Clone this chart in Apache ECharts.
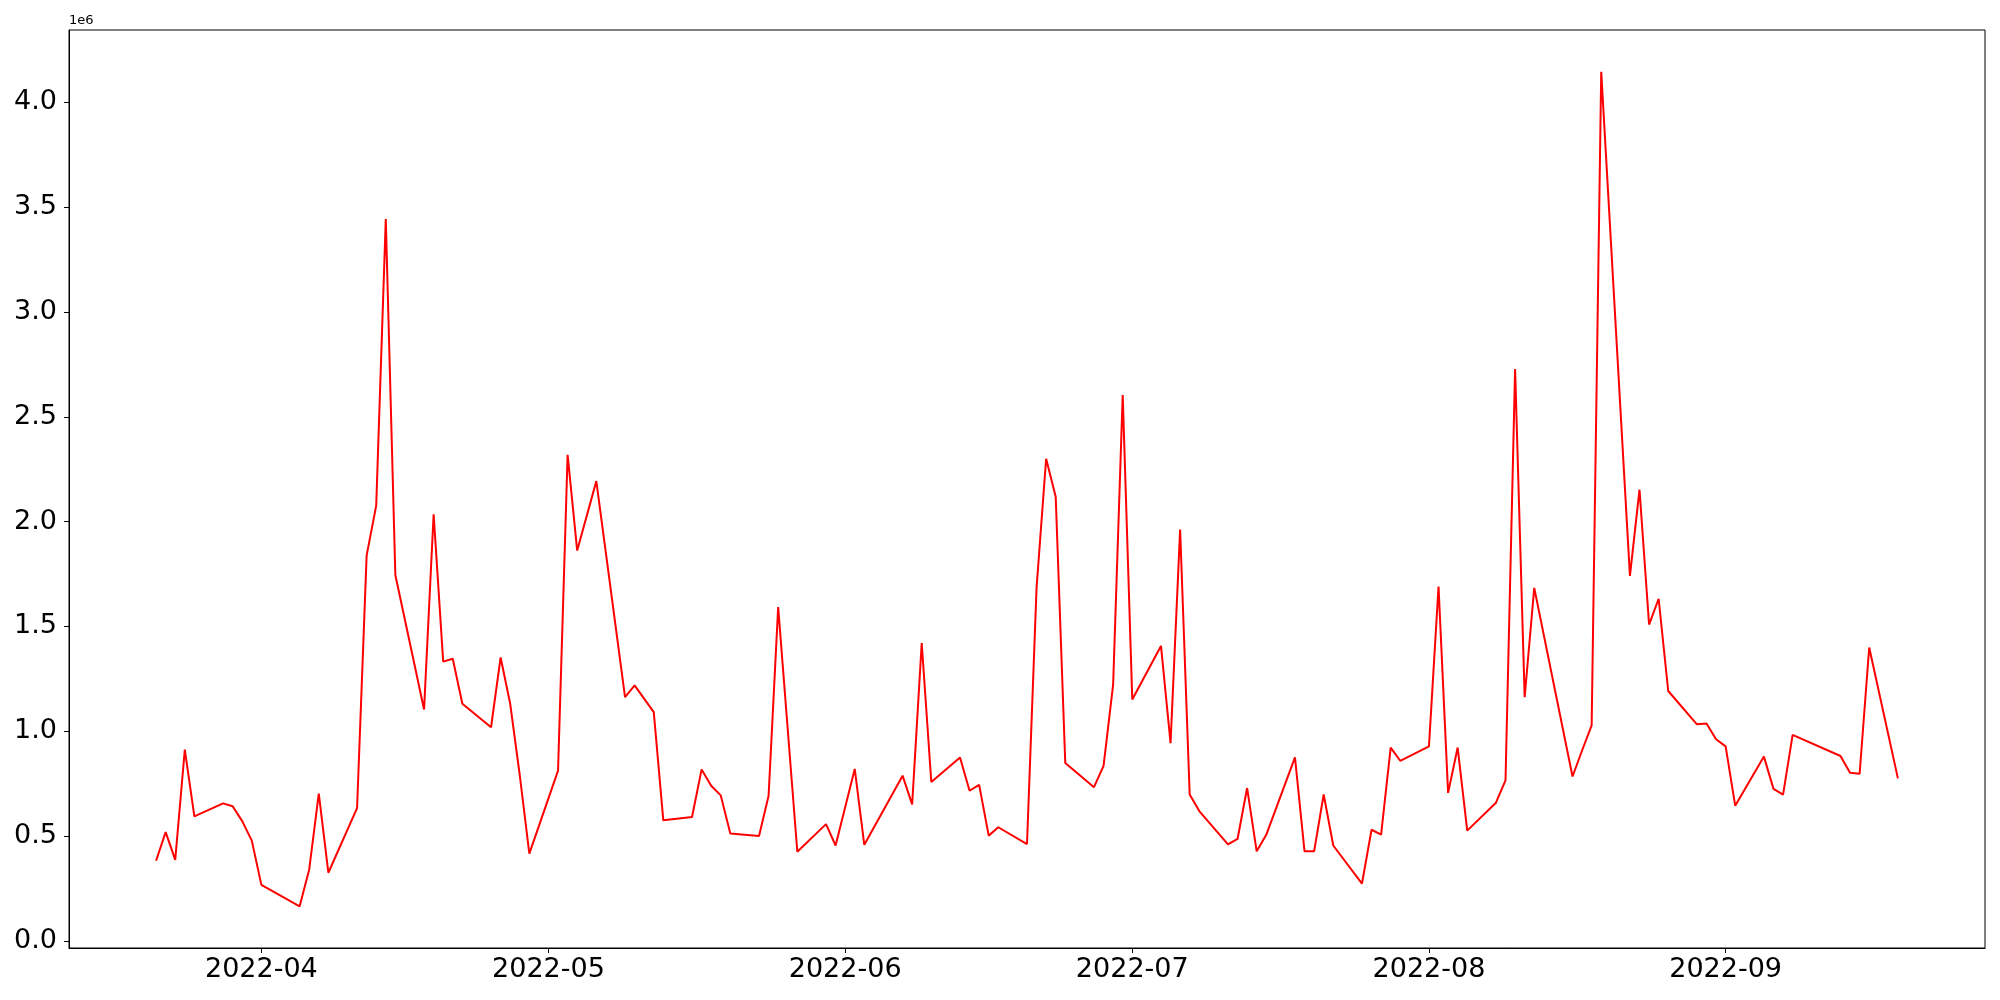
<!DOCTYPE html>
<html>
<head>
<meta charset="utf-8">
<script src="https://cdn.jsdelivr.net/npm/echarts@6/dist/echarts.min.js"></script>
<style>
html,body{margin:0;padding:0;background:#fff;}
#chart{width:2000px;height:1000px;}
</style>
</head>
<body>
<div id="chart"></div>
<script>
const dates = [
'2022-03-21','2022-03-22','2022-03-23','2022-03-24','2022-03-25',
'2022-03-28','2022-03-29','2022-03-30','2022-03-31','2022-04-01',
'2022-04-05','2022-04-06','2022-04-07','2022-04-08',
'2022-04-11','2022-04-12','2022-04-13','2022-04-14','2022-04-15',
'2022-04-18','2022-04-19','2022-04-20','2022-04-21','2022-04-22',
'2022-04-25','2022-04-26','2022-04-27','2022-04-28','2022-04-29',
'2022-05-02','2022-05-03','2022-05-04','2022-05-06',
'2022-05-09','2022-05-10','2022-05-12','2022-05-13',
'2022-05-16','2022-05-17','2022-05-18','2022-05-19','2022-05-20',
'2022-05-23','2022-05-24','2022-05-25','2022-05-27',
'2022-05-30','2022-05-31','2022-06-02','2022-06-03',
'2022-06-07','2022-06-08','2022-06-09','2022-06-10',
'2022-06-13','2022-06-14','2022-06-15','2022-06-16','2022-06-17',
'2022-06-20','2022-06-21','2022-06-22','2022-06-23','2022-06-24',
'2022-06-27','2022-06-28','2022-06-29','2022-06-30','2022-07-01',
'2022-07-04','2022-07-05','2022-07-06','2022-07-07','2022-07-08',
'2022-07-11','2022-07-12','2022-07-13','2022-07-14','2022-07-15',
'2022-07-18','2022-07-19','2022-07-20','2022-07-21','2022-07-22',
'2022-07-25','2022-07-26','2022-07-27','2022-07-28','2022-07-29',
'2022-08-01','2022-08-02','2022-08-03','2022-08-04','2022-08-05',
'2022-08-08','2022-08-09','2022-08-10','2022-08-11','2022-08-12',
'2022-08-16','2022-08-17','2022-08-18','2022-08-19',
'2022-08-22','2022-08-23','2022-08-24','2022-08-25','2022-08-26',
'2022-08-29','2022-08-30','2022-08-31','2022-09-01','2022-09-02',
'2022-09-05','2022-09-06','2022-09-07','2022-09-08',
'2022-09-13','2022-09-14','2022-09-15','2022-09-16',
'2022-09-19'
];
const values = [
382000,519000,386000,912000,594000,
656000,642000,571000,478000,267000,
165000,341000,702000,325000,
633000,1839000,2076000,3443000,1745000,
1104000,2035000,1332000,1346000,1131000,
1019000,1352000,1131000,790000,416000,
812000,2319000,1862000,2193000,
1163000,1219000,1091000,575000,
591000,818000,740000,694000,512000,
500000,692000,1592000,425000,
557000,455000,820000,458000,
788000,651000,1421000,758000,
875000,716000,744000,502000,542000,
462000,1685000,2300000,2118000,848000,
733000,835000,1222000,2604000,1151000,
1407000,943000,1962000,698000,619000,
460000,486000,729000,427000,506000,
875000,427000,427000,698000,455000,
273000,530000,507000,922000,859000,
928000,1690000,706000,922000,526000,
659000,766000,2728000,1162000,1684000,
784000,908000,1028000,4146000,
1741000,2152000,1509000,1632000,1192000,
1033000,1037000,962000,928000,645000,
879000,725000,698000,983000,
882000,802000,797000,1399000,
775000
];
const xTickDates = ['2022-04-01','2022-05-01','2022-06-01','2022-07-01','2022-08-01','2022-09-01'];
const yTicks = [0,500000,1000000,1500000,2000000,2500000,3000000,3500000,4000000];
const yScaleLabel = '1e6';

function ts(s){const p=s.split('-').map(Number);return Date.UTC(p[0],p[1]-1,p[2]);}
const xs = dates.map(ts);
const xTickVals = xTickDates.map(ts);
const span = xs[xs.length-1]-xs[0];
const xMin = xs[0]-0.05*span, xMax = xs[xs.length-1]+0.05*span;
const vMin = Math.min.apply(null, values), vMax = Math.max.apply(null, values);
const vr = vMax - vMin;
const yMin = vMin - 0.05*vr, yMax = vMax + 0.05*vr;

const chart = echarts.init(document.getElementById('chart'), null, {renderer:'canvas'});
const font = 'DejaVu Sans';
chart.setOption({
  animation:false,
  backgroundColor:'#fff',
  grid:{left:69, right:15, top:30, bottom:52, show:true, borderColor:'#000', borderWidth:1, backgroundColor:'transparent'},
  xAxis:{
    type:'value', min:xMin, max:xMax, scale:true,
    axisLine:{show:true, onZero:false, lineStyle:{color:'#000', width:1}},
    axisTick:{show:true, inside:false, length:5, lineStyle:{color:'#000', width:1}, customValues:xTickVals},
    axisLabel:{show:true, margin:8, color:'#000', fontFamily:font, fontSize:27,
      customValues:xTickVals,
      formatter:function(v){const d=new Date(v);return d.getUTCFullYear()+'-'+String(d.getUTCMonth()+1).padStart(2,'0');}},
    splitLine:{show:false}
  },
  yAxis:{
    type:'value', min:yMin, max:yMax, scale:true,
    name:yScaleLabel, nameLocation:'end', nameGap:9,
    nameTextStyle:{fontFamily:font, fontSize:13, color:'#000', align:'left', verticalAlign:'middle'},
    axisLine:{show:true, onZero:false, lineStyle:{color:'#000', width:1}},
    axisTick:{show:true, inside:false, length:5, lineStyle:{color:'#000', width:1}, customValues:yTicks},
    axisLabel:{show:true, margin:12, color:'#000', fontFamily:font, fontSize:27,
      customValues:yTicks,
      formatter:function(v){return (v/1e6).toFixed(1);}},
    splitLine:{show:false}
  },
  series:[{
    type:'line',
    data:xs.map((x,i)=>[x, values[i]]),
    showSymbol:false, symbol:'none',
    lineStyle:{color:'#ff0000', width:2},
    itemStyle:{color:'#ff0000'}
  }]
});
</script>
</body>
</html>
